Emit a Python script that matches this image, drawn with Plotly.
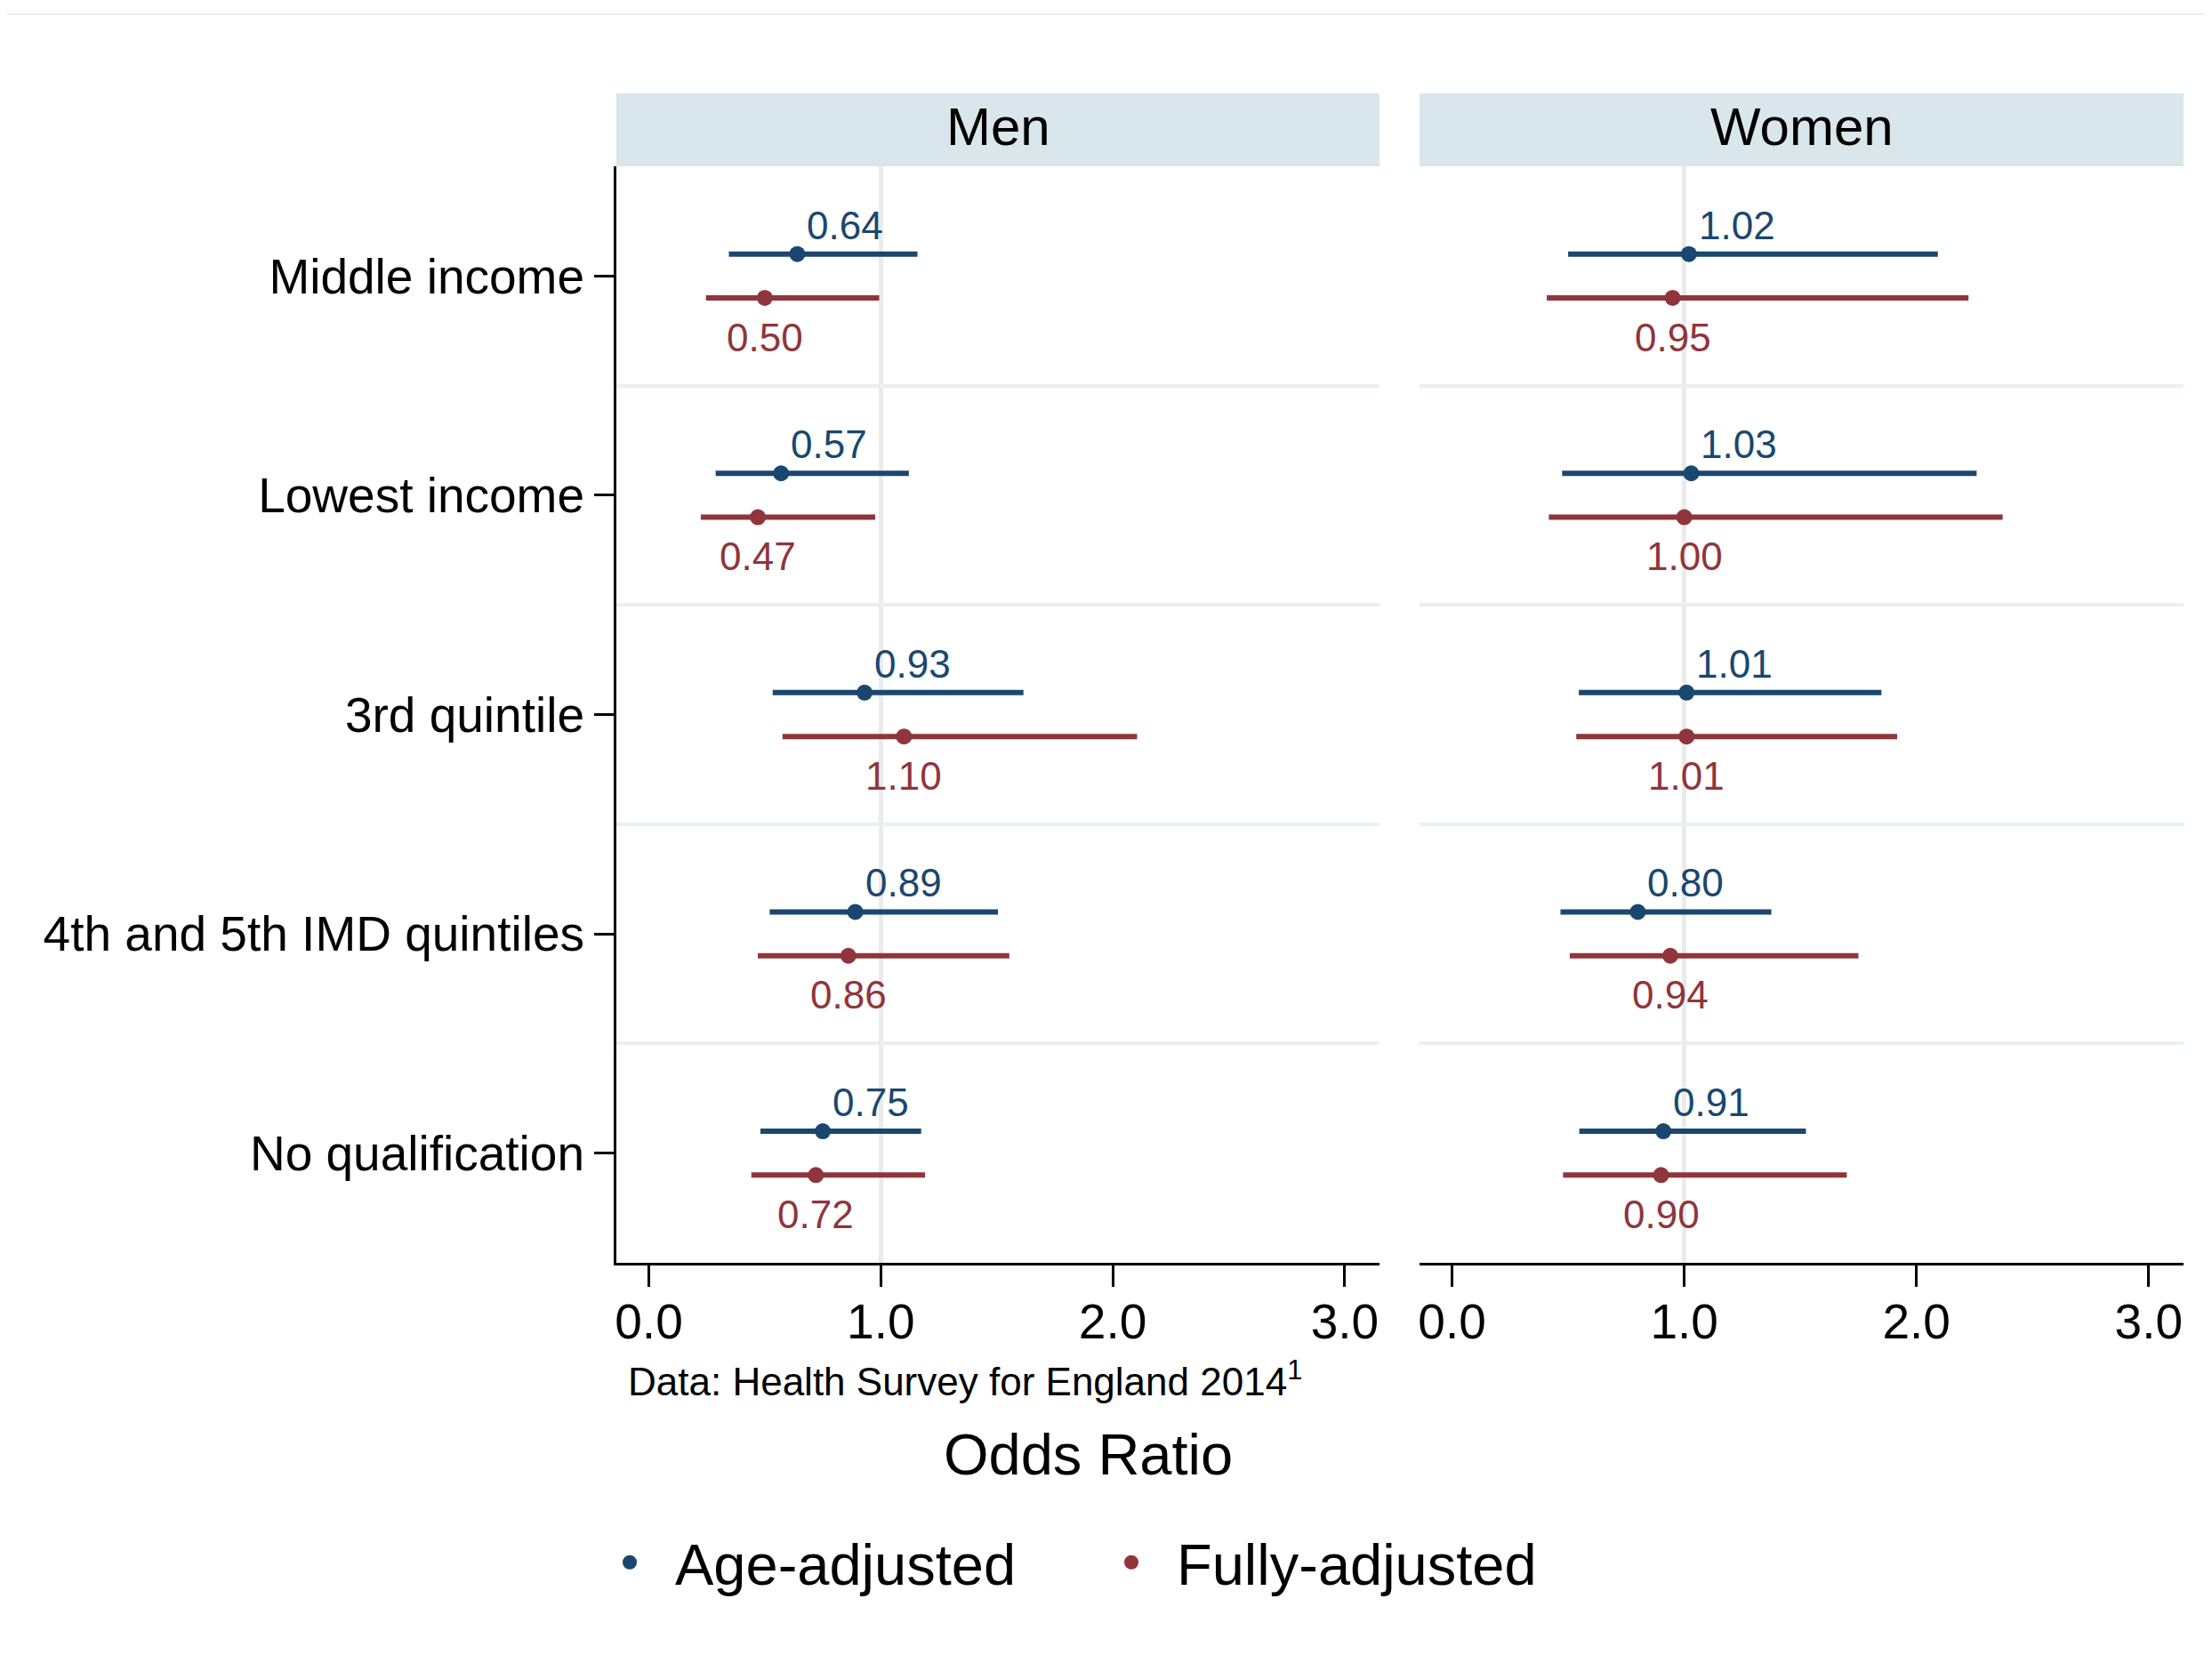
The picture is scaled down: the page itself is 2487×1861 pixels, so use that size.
import plotly.graph_objects as go

categories = ["Middle income", "Lowest income", "3rd quintile", "4th and 5th IMD quintiles", "No qualification"]
panels = ["Men", "Women"]

# Men
men_age_or = [0.64, 0.57, 0.93, 0.89, 0.75]
men_age_lo = [0.345, 0.288, 0.534, 0.521, 0.481]
men_age_hi = [1.158, 1.121, 1.615, 1.505, 1.174]
men_full_or = [0.50, 0.47, 1.10, 0.86, 0.72]
men_full_lo = [0.246, 0.224, 0.576, 0.470, 0.442]
men_full_hi = [0.993, 0.976, 2.105, 1.554, 1.191]

# Women
women_age_or = [1.02, 1.03, 1.01, 0.80, 0.91]
women_age_lo = [0.500, 0.474, 0.546, 0.467, 0.548]
women_age_hi = [2.092, 2.259, 1.849, 1.375, 1.524]
women_full_or = [0.95, 1.00, 1.01, 0.94, 0.90]
women_full_lo = [0.408, 0.417, 0.535, 0.507, 0.478]
women_full_hi = [2.224, 2.371, 1.917, 1.750, 1.700]

x_ticks = [0, 1, 2, 3]
x_ticktext = ["0.0", "1.0", "2.0", "3.0"]

BLUE = "#1a476f"
RED = "#90353b"
FONT = "Liberation Sans, Arial, sans-serif"

OFF = 8  # page body margin
W, H = 2487 - 2 * OFF, 1861 - 2 * OFF
# plot area in page pixels: x 693..2455, y 187..1420
ML = 693 - OFF
MT = 187 - OFF
MR = W - (2455 - OFF)
MB = H - (1420 - OFF)
PW = W - ML - MR
PH = H - MT - MB

def py(pix):
    return ((1420 - OFF) - (pix - OFF)) / PH

def px(pix):
    return ((pix - OFF) - ML) / PW

rows = list(range(len(categories)))
age_y = [r - 0.1 for r in rows]
full_y = [r + 0.1 for r in rows]

fig = go.Figure()

panel_data = [
    ("x", "y", men_age_or, men_age_lo, men_age_hi, men_full_or, men_full_lo, men_full_hi, True),
    ("x2", "y2", women_age_or, women_age_lo, women_age_hi, women_full_or, women_full_lo, women_full_hi, False),
]

annotations = []
for xa, ya, a_or, a_lo, a_hi, f_or, f_lo, f_hi, show in panel_data:
    fig.add_trace(go.Scatter(
        x=a_or, y=age_y, xaxis=xa, yaxis=ya, mode="markers", name="Age-adjusted",
        marker=dict(color=BLUE, size=18),
        error_x=dict(type="data", symmetric=False,
                     array=[h - o for h, o in zip(a_hi, a_or)],
                     arrayminus=[o - l for o, l in zip(a_or, a_lo)],
                     color=BLUE, thickness=6, width=0),
        showlegend=show, legendgroup="age"))
    fig.add_trace(go.Scatter(
        x=f_or, y=full_y, xaxis=xa, yaxis=ya, mode="markers", name="Fully-adjusted",
        marker=dict(color=RED, size=18),
        error_x=dict(type="data", symmetric=False,
                     array=[h - o for h, o in zip(f_hi, f_or)],
                     arrayminus=[o - l for o, l in zip(f_or, f_lo)],
                     color=RED, thickness=6, width=0),
        showlegend=show, legendgroup="full"))
    for r, v in zip(rows, a_or):
        annotations.append(dict(x=v, y=r - 0.232, xref=xa, yref=ya, text=f"{v:.2f}",
                                showarrow=False, xanchor="left", yanchor="middle", xshift=9,
                                font=dict(family=FONT, size=44, color=BLUE)))
    for r, v in zip(rows, f_or):
        annotations.append(dict(x=v, y=r + 0.279, xref=xa, yref=ya, text=f"{v:.2f}",
                                showarrow=False, xanchor="center", yanchor="middle",
                                font=dict(family=FONT, size=44, color=RED)))

men_dom = [0, px(1551)]
women_dom = [px(1596), 1]

xcommon = dict(range=[-0.14, 3.15], tickvals=x_ticks, ticktext=x_ticktext,
               ticks="outside", ticklen=24, tickwidth=3, tickcolor="black",
               showline=True, linewidth=3, linecolor="black", showgrid=False, zeroline=False,
               tickfont=dict(family=FONT, size=55, color="black"), ticklabelstandoff=-8,
               minor=dict(tickvals=[1], showgrid=True, gridcolor="#ebebeb", gridwidth=5, ticks=""))
ycommon = dict(range=[4.5, -0.5], tickvals=rows, ticktext=categories, showgrid=False, zeroline=False,
               minor=dict(tickvals=[0.5, 1.5, 2.5, 3.5], showgrid=True, gridcolor="#e8f0f2",
                          gridwidth=4, ticks=""))

fig.update_layout(
    xaxis=dict(domain=men_dom, anchor="y", **xcommon),
    xaxis2=dict(domain=women_dom, anchor="y2", **xcommon),
    yaxis=dict(domain=[0, 1], anchor="x", ticks="outside", ticklen=22, tickwidth=3, tickcolor="black",
               showline=True, linewidth=3, linecolor="black", ticklabelstandoff=0,
               tickfont=dict(family=FONT, size=55, color="black"), **ycommon),
    yaxis2=dict(domain=[0, 1], anchor="x2", matches="y", showticklabels=False, ticks="",
                showline=False, **ycommon),
)

shapes = []
for xa, name in zip(["x", "x2"], panels):
    shapes.append(dict(type="rect", xref=f"{xa} domain", yref="paper", x0=0, x1=1,
                       y0=1.0, y1=py(105), fillcolor="#d9e6eb", line=dict(width=0), layer="below"))
    annotations.append(dict(x=0.5, y=py(143), xref=f"{xa} domain", yref="paper", text=name,
                            showarrow=False, xanchor="center", yanchor="middle",
                            font=dict(family=FONT, size=60, color="black")))

shapes.append(dict(type="line", xref="paper", yref="paper", x0=px(OFF), x1=px(W + OFF), y0=py(16), y1=py(16),
                   line=dict(color="#eeeeee", width=2)))

annotations.append(dict(x=px(704), y=py(1550), xref="paper", yref="paper",
                        text="Data: Health Survey for England 2014<sup>1</sup>",
                        showarrow=False, xanchor="left", yanchor="middle",
                        font=dict(family=FONT, size=44, color="black")))
annotations.append(dict(x=px(1223), y=py(1635), xref="paper", yref="paper", text="Odds Ratio",
                        showarrow=False, xanchor="center", yanchor="middle",
                        font=dict(family=FONT, size=65, color="black")))

fig.update_layout(
    width=W, height=H,
    margin=dict(l=ML, r=MR, t=MT, b=MB, autoexpand=False),
    paper_bgcolor="white", plot_bgcolor="white",
    shapes=shapes, annotations=annotations,
    showlegend=True,
    legend=dict(orientation="h", x=px(657), y=py(1757), xanchor="left", yanchor="middle",
                font=dict(family=FONT, size=65, color="black"), entrywidth=457, entrywidthmode="pixels",
                itemwidth=92, bgcolor="rgba(0,0,0,0)", itemsizing="trace"),
)

fig.write_html("out.html")
